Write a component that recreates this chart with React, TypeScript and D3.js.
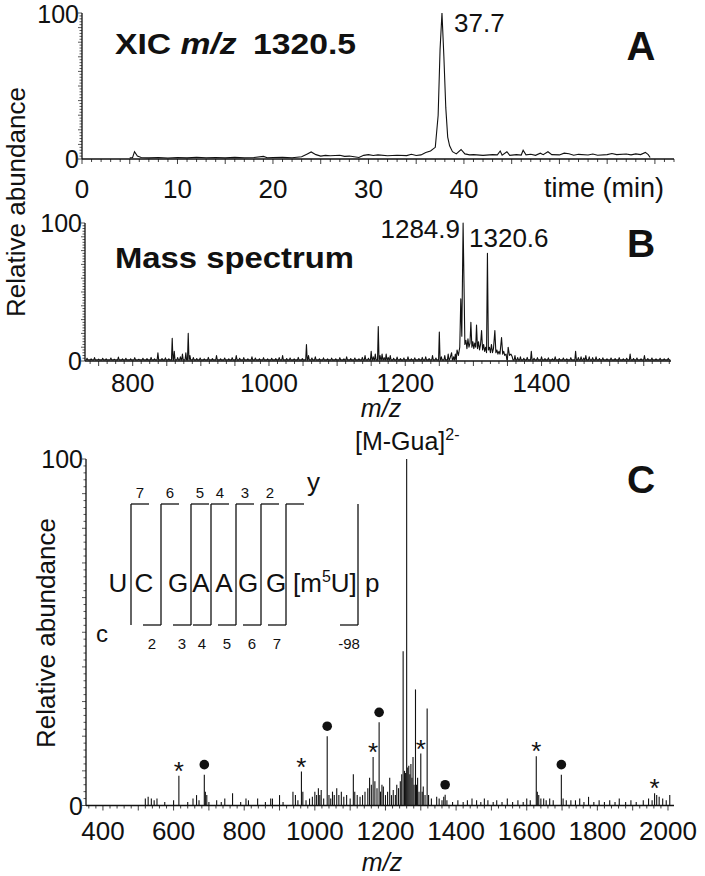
import React from "react";
import * as d3 from "d3";

const FONT = "'Liberation Sans', Arial, Helvetica, sans-serif";

// ---------- Panel A: XIC m/z 1320.5 ----------
const xicTime = [5.0, 5.3, 5.5, 5.8, 6.2, 7, 8, 9, 10, 11, 12, 13, 14, 15, 16, 17, 18, 19, 19.4, 20, 21, 22, 23, 23.6, 24, 24.5, 25, 25.5, 26, 27, 27.5, 28, 28.5, 29, 29.5, 30, 30.5, 31, 32, 33, 34, 34.5, 35, 35.5, 36, 36.5, 37, 37.3, 37.5, 37.7, 37.9, 38.1, 38.3, 38.5, 38.8, 39.2, 39.7, 40.1, 40.6, 41, 42, 43, 43.5, 43.8, 44, 44.5, 44.8, 45.5, 46, 46.2, 46.5, 47, 47.5, 48, 48.3, 48.8, 49.2, 50, 50.5, 51, 51.5, 52, 53, 53.5, 54, 55, 55.5, 56, 57, 57.5, 58, 58.5, 59, 59.3, 59.5];
const xicAbund = [0.8, 1, 5, 2, 1, 0.8, 1, 0.7, 1, 0.8, 1.2, 0.9, 1, 0.8, 1.1, 0.9, 1, 1.8, 0.9, 1, 1.1, 0.9, 1.5, 3.5, 4.8, 3, 2, 2.5, 2.2, 2.6, 1.8, 2, 1.5, 1, 2.5, 3, 2.4, 2.8, 2.2, 2.6, 2.3, 3.2, 2.4, 2.8, 4.5, 5.5, 8, 30, 75, 100, 70, 35, 15, 9, 5, 3.5, 6.5, 3.5, 2.8, 3, 2.5, 3, 2.8, 5.5, 2.6, 5, 2.5, 3, 2.7, 6, 2.8, 3.2, 2.5, 4, 3, 5, 3, 2.8, 4, 3.6, 2.6, 3.2, 2.7, 3.4, 2.6, 3, 3.8, 3, 3.4, 2.8, 3.5, 3, 4.5, 3, 1];
const xicTicks = [0, 10, 20, 30, 40];

// ---------- Panel B: mass spectrum ----------
const msPeaks: [number, number][] = [
  [733, 2], [739, 1.5], [744, 2.5], [750, 1.4], [756, 2], [761, 1.6], [768, 2.2], [773, 1.3], [779, 2.8], [785, 1.5],
  [790, 2], [797, 1.6], [803, 2.4], [809, 1.3], [815, 2], [821, 1.7], [827, 2.6], [832, 1.5], [837, 6], [843, 1.8],
  [848, 2.3], [853, 1.6], [858, 16.5], [861, 7], [866, 2.5], [870, 3], [873, 5], [878, 6], [881.5, 20], [884, 4],
  [889, 2.5], [894, 1.8], [899, 2.2], [905, 1.5], [911, 2.6], [917, 1.7], [923, 4], [929, 1.6], [935, 2.2], [941, 1.5],
  [946, 2.4], [952, 4], [957, 2], [963, 2.5], [969, 1.6], [975, 3], [980, 2.2], [986, 1.6], [992, 2.4], [998, 1.5],
  [1004, 2], [1010, 1.7], [1015, 2.5], [1020, 4], [1026, 1.8], [1031, 2.2], [1037, 1.5], [1043, 2.6], [1049, 1.7], [1055, 12],
  [1058, 4], [1063, 2.2], [1068, 3], [1074, 1.6], [1080, 2.3], [1086, 1.5], [1092, 2.1], [1098, 1.6], [1104, 2.4], [1110, 1.5],
  [1114, 3], [1120, 1.7], [1126, 2.2], [1132, 1.6], [1137, 2.6], [1141, 4], [1146, 2], [1150, 7], [1153, 3], [1156, 5],
  [1160.4, 25], [1163, 4], [1166, 5], [1169, 2.5], [1172, 5], [1175, 2.6], [1178, 4], [1183, 2], [1188, 2.8], [1193, 1.7],
  [1198, 2.2], [1204, 3], [1209, 1.6], [1214, 2.3], [1220, 1.8], [1225, 2.6], [1230, 3], [1235, 1.8], [1240, 4], [1245, 2.2],
  [1250, 21], [1253, 3], [1258, 4], [1263, 5], [1266, 2.5], [1268, 6], [1271, 3], [1273.5, 5],
];
const msCluster: [number, number][] = [
  [1276, 8], [1278, 4], [1280, 10], [1281.5, 45], [1283, 18], [1284.9, 100], [1286.3, 53], [1287.5, 12], [1289, 15], [1290.5, 9],
  [1292, 16], [1293.5, 10], [1295, 13], [1296.3, 28], [1297.8, 10], [1299.2, 14], [1300.6, 9], [1302, 13], [1303.4, 10], [1304.6, 26],
  [1306, 9], [1307.5, 14], [1309, 8], [1310.5, 12], [1312, 22], [1313.5, 8], [1315, 12], [1316.5, 7], [1318, 10], [1319.3, 6],
  [1320.6, 78], [1322, 8], [1323.5, 10], [1325, 6], [1326.5, 12], [1328, 6], [1329.5, 9], [1331.5, 22], [1333, 6], [1334.5, 8],
  [1336, 5], [1337.5, 7], [1339, 5], [1341.3, 17], [1343, 5], [1344.5, 7], [1346, 4], [1348, 5], [1351, 10], [1353, 4],
  [1355, 5], [1357, 3],
];
const msTail: [number, number][] = [
  [1361, 4], [1365, 2.5], [1369, 3], [1374, 2], [1379, 2.6], [1385, 7], [1389, 2], [1394, 2.4], [1400, 3], [1405, 1.8],
  [1410, 2.3], [1416, 1.6], [1420, 3], [1426, 1.8], [1432, 2.2], [1437, 1.6], [1443, 2.4], [1450, 7], [1454, 2.5], [1458, 3],
  [1462, 2.2], [1465, 4], [1470, 3], [1475, 2.4], [1480, 3], [1485, 1.8], [1490, 2.3], [1496, 1.6], [1502, 2.2], [1508, 1.7],
  [1514, 2.4], [1520, 1.6], [1525, 2], [1530, 5], [1535, 1.8], [1540, 2.2], [1546, 1.6], [1551, 4], [1556, 1.8], [1562, 2.2],
  [1568, 1.5], [1574, 2], [1580, 1.6], [1586, 2],
];
const msTicks = [800, 1000, 1200, 1400];

// ---------- Panel C: MS/MS spectrum ----------
const ms2Peaks: [number, number][] = [
  [520, 2], [528, 2.5], [537, 2], [545, 1.5], [553, 2], [575, 1], [600, 1.5], [615, 8.6], [640, 1], [655, 2],
  [665, 3], [672, 1.5], [687, 8.9], [690, 4], [694, 3], [700, 1], [722, 1.5], [735, 1], [745, 2], [767, 3.5],
  [790, 1], [805, 2], [812, 1.5], [838, 2], [860, 1], [875, 2], [880, 2], [900, 3], [910, 1], [938, 4],
  [945, 3], [952, 1.5], [962, 9.8], [966, 4], [975, 1.5], [985, 2], [993, 2.5], [1000, 4], [1005, 3], [1010, 5],
  [1014, 3], [1018, 4.5], [1025, 2], [1035, 20], [1040, 3], [1045, 2], [1050, 4], [1055, 3], [1062, 5], [1068, 3],
  [1075, 4], [1082, 2.5], [1090, 3], [1100, 2], [1109, 9], [1113, 4], [1120, 3], [1128, 2.5], [1135, 3], [1142, 4],
  [1150, 5], [1155, 8], [1160, 6], [1165, 14], [1170, 7], [1176, 5], [1182, 24], [1186, 4], [1190, 6], [1194, 5.5],
  [1200, 3], [1206, 4], [1212, 8], [1217, 3], [1222, 4.5], [1228, 3], [1232, 6], [1237, 5], [1242, 7], [1246, 9],
  [1250, 44.5], [1254, 10], [1257, 9.4], [1260, 100], [1263, 11], [1266, 11.5], [1269, 9], [1272, 12], [1275, 8], [1278, 14],
  [1281, 6], [1285, 33.5], [1288, 6], [1291, 8], [1295, 4], [1300, 15], [1304, 4], [1307, 5.5], [1312, 3], [1318, 28],
  [1322, 3], [1330, 2], [1345, 2.5], [1352, 2], [1360, 1.5], [1365, 2.5], [1369, 3.1], [1374, 1.5], [1390, 1], [1405, 1.5],
  [1420, 1], [1432, 1.5], [1445, 2], [1458, 1.5], [1470, 1], [1480, 2], [1490, 1.5], [1505, 1], [1515, 1.5], [1530, 1],
  [1545, 2], [1560, 1], [1575, 1.5], [1590, 1], [1600, 2], [1610, 1.5], [1627, 14.2], [1630, 4], [1634, 3], [1640, 2],
  [1648, 2], [1655, 1.5], [1665, 2], [1675, 1.5], [1698, 8.9], [1703, 2], [1712, 1.5], [1725, 1.5], [1738, 1.5], [1750, 2],
  [1762, 1], [1775, 2.5], [1790, 1], [1805, 1.5], [1820, 1], [1835, 1.5], [1850, 1], [1862, 2], [1880, 1], [1895, 1.5],
  [1910, 1], [1930, 1.5], [1945, 2], [1955, 1.5], [1962, 3.5], [1968, 3], [1975, 2.5], [1985, 2], [1995, 1.5], [2005, 3],
];
const starMz = [615, 962, 1165, 1300, 1627, 1962];
const dotMz = [687, 1035, 1182, 1369, 1698];
const ms2Ticks = [400, 600, 800, 1000, 1200, 1400, 1600, 1800, 2000];

// ---------- Sequence ----------
const bases = ["U", "C", "G", "A", "A", "G", "G"];
const yIonLabels = ["7", "6", "5", "4", "3", "2"];
const cIonLabels = ["2", "3", "4", "5", "6", "7", "-98"];

const INK = "#111";

function YAxis({ scale, xPos }: { scale: d3.ScaleLinear<number, number>; xPos: number }) {
  const ticks = d3.range(0, 101, 2);
  return (
    <g>
      <line x1={xPos} x2={xPos} y1={scale(0)} y2={scale(100)} stroke={INK} strokeWidth={1.3} />
      {ticks.map((t) => (
        <line key={t} x1={xPos - (t % 10 === 0 ? 4 : 2.5)} x2={xPos} y1={scale(t)} y2={scale(t)} stroke={INK} strokeWidth={0.7} />
      ))}
      <text x={xPos - 3} y={Math.max(scale(100) + 9, 23)} textAnchor="end" fontSize={25} fill={INK}>100</text>
      <text x={xPos - 3} y={scale(0) + 9} textAnchor="end" fontSize={25} fill={INK}>0</text>
    </g>
  );
}

function XAxis({ scale, yPos, minor, majorEvery, labels, labelY }: {
  scale: d3.ScaleLinear<number, number>; yPos: number; minor: number; majorEvery: number; labels: number[]; labelY: number;
}) {
  const [d0, d1] = scale.domain();
  const first = Math.ceil(d0 / minor) * minor;
  const ticks = d3.range(first, d1 + 1e-6, minor);
  return (
    <g>
      <line x1={scale.range()[0]} x2={scale.range()[1]} y1={yPos} y2={yPos} stroke={INK} strokeWidth={1.3} />
      {ticks.map((t) => {
        const major = Math.abs(t / majorEvery - Math.round(t / majorEvery)) < 1e-6;
        return <line key={t} x1={scale(t)} x2={scale(t)} y1={yPos} y2={yPos + (major ? 5 : 3)} stroke={INK} strokeWidth={0.8} />;
      })}
      {labels.map((l) => (
        <text key={l} x={scale(l)} y={labelY} textAnchor="middle" fontSize={26} fill={INK}>{l}</text>
      ))}
    </g>
  );
}

function profilePoints(peaks: [number, number][], start: number, end: number): [number, number][] {
  const sorted = [...peaks].sort((a, b) => a[0] - b[0]);
  const pts: [number, number][] = [[start, 0.8]];
  sorted.forEach((p, i) => {
    const prev = sorted[i - 1];
    const next = sorted[i + 1];
    if (!prev || p[0] - prev[0] > 2.4) pts.push([p[0] - 1.1, 0.8]);
    pts.push(p);
    if (!next || next[0] - p[0] > 2.4) pts.push([p[0] + 1.1, 0.8]);
  });
  pts.push([end, 0.8]);
  return pts;
}

export default function App() {
  // Panel A scales
  const xA = d3.scaleLinear().domain([0, 62]).range([82, 674]);
  const yA = d3.scaleLinear().domain([0, 100]).range([159, 13]);
  const lineA = d3.line<number>().x((_, i) => xA(xicTime[i])).y((_, i) => yA(xicAbund[i]));

  // Panel B scales
  const xB = d3.scaleLinear().domain([730, 1590]).range([85, 671]);
  const yB = d3.scaleLinear().domain([0, 100]).range([361, 223]);
  const bPts = profilePoints([...msPeaks, ...msCluster, ...msTail], 731, 1589);
  const lineB = d3.line<[number, number]>().x((d) => xB(d[0])).y((d) => yB(d[1]));

  // Panel C scales
  const xC = d3.scaleLinear().domain([352, 2017]).range([86, 674]);
  const yC = d3.scaleLinear().domain([0, 100]).range([805.5, 459]);
  const ms2Map = new Map(ms2Peaks.map((p) => [p[0], p[1]]));

  // Sequence layout
  const cutX = [131, 161, 191, 211, 236, 261, 286, 358];
  const baseCx = [118, 144, 178, 201, 224, 248, 276];
  const topY = 504;
  const botY = 625;
  const arm = 18;

  return (
    <svg width={705} height={876} style={{ position: "absolute", left: 0, top: 0, background: "#fff" }} fontFamily={FONT}>
      <rect x={0} y={0} width={705} height={876} fill="#fff" />

      {/* Shared y label for A and B */}
      <text transform="translate(25,202) rotate(-90)" textAnchor="middle" fontSize={26} fill={INK}>Relative abundance</text>

      {/* ---- Panel A ---- */}
      <YAxis scale={yA} xPos={82} />
      <XAxis scale={xA} yPos={159} minor={1} majorEvery={5} labels={xicTicks} labelY={198} />
      <path d={lineA(xicTime) || ""} fill="none" stroke={INK} strokeWidth={1.1} />
      <text x={664} y={197} textAnchor="end" fontSize={27} fill={INK}>time (min)</text>
      <text x={115} y={54} fontSize={29} fontWeight="bold" fill={INK} textLength={241} lengthAdjust="spacingAndGlyphs">
        XIC <tspan fontStyle="italic">m/z</tspan><tspan dx={14}>1320.5</tspan>
      </text>
      <text x={454} y={32} fontSize={26} fill={INK}>37.7</text>
      <text x={641} y={60} textAnchor="middle" fontSize={40} fontWeight="bold" fill={INK}>A</text>

      {/* ---- Panel B ---- */}
      <YAxis scale={yB} xPos={85} />
      <XAxis scale={xB} yPos={361} minor={12.5} majorEvery={50} labels={msTicks} labelY={392} />
      <path d={lineB(bPts) || ""} fill="none" stroke={INK} strokeWidth={1.1} strokeLinejoin="round" />
      <text x={381} y={417} textAnchor="middle" fontSize={25} fontStyle="italic" fill={INK}>m/z</text>
      <text x={115} y={268} fontSize={29} fontWeight="bold" fill={INK} textLength={239} lengthAdjust="spacingAndGlyphs">Mass spectrum</text>
      <text x={460} y={238} textAnchor="end" fontSize={26} fill={INK}>1284.9</text>
      <text x={469} y={247} fontSize={26} fill={INK}>1320.6</text>
      <text x={641} y={257} textAnchor="middle" fontSize={39} fontWeight="bold" fill={INK}>B</text>

      {/* ---- Panel C ---- */}
      <text transform="translate(55,633) rotate(-90)" textAnchor="middle" fontSize={26} fill={INK}>Relative abundance</text>
      <YAxis scale={yC} xPos={86} />
      <XAxis scale={xC} yPos={805.5} minor={20} majorEvery={100} labels={ms2Ticks} labelY={840} />
      {ms2Peaks.map(([mz, h]) => (
        <line key={mz} x1={xC(mz)} x2={xC(mz)} y1={yC(0)} y2={yC(h)} stroke={INK} strokeWidth={1.1} />
      ))}
      {starMz.map((mz) => (
        <text key={"s" + mz} x={xC(mz)} y={yC(ms2Map.get(mz) || 0) + 4} textAnchor="middle" fontSize={26} fill={INK}>*</text>
      ))}
      {dotMz.map((mz) => (
        <circle key={"d" + mz} cx={xC(mz)} cy={yC(ms2Map.get(mz) || 0) - 10} r={4.8} fill={INK} />
      ))}
      <text x={382} y={871} textAnchor="middle" fontSize={25} fontStyle="italic" fill={INK}>m/z</text>
      <text x={355} y={450} fontSize={25} fill={INK}>
        [M-Gua]<tspan fontSize={16} dy={-10}>2-</tspan>
      </text>
      <text x={641} y={493} textAnchor="middle" fontSize={39} fontWeight="bold" fill={INK}>C</text>

      {/* Sequence diagram */}
      <g stroke={INK} strokeWidth={1.3} fill="none">
        {cutX.map((x, i) => (
          <line key={"v" + i} x1={x} x2={x} y1={topY} y2={botY} />
        ))}
        {cutX.slice(0, 7).map((x, i) => (
          <line key={"t" + i} x1={x} x2={x + arm} y1={topY} y2={topY} />
        ))}
        {cutX.slice(1).map((x, i) => (
          <line key={"b" + i} x1={x - arm} x2={x} y1={botY} y2={botY} />
        ))}
      </g>
      {yIonLabels.map((l, i) => (
        <text key={"y" + i} x={cutX[i] + arm / 2} y={498} textAnchor="middle" fontSize={15} fill={INK}>{l}</text>
      ))}
      <text x={307} y={491} fontSize={26} fill={INK}>y</text>
      {cIonLabels.map((l, i) => (
        <text key={"c" + i} x={cutX[i + 1] - arm / 2} y={649} textAnchor="middle" fontSize={15} fill={INK}>{l}</text>
      ))}
      <text x={102} y={642} textAnchor="middle" fontSize={24} fill={INK}>c</text>
      {bases.map((b, i) => (
        <text key={"n" + i} x={baseCx[i]} y={592} textAnchor="middle" fontSize={26} fill={INK}>{b}</text>
      ))}
      <text x={293} y={592} fontSize={26} fill={INK}>
        [m<tspan fontSize={16} dy={-10}>5</tspan><tspan dy={10}>U]</tspan>
      </text>
      <text x={365} y={592} fontSize={26} fill={INK}>p</text>
    </svg>
  );
}
